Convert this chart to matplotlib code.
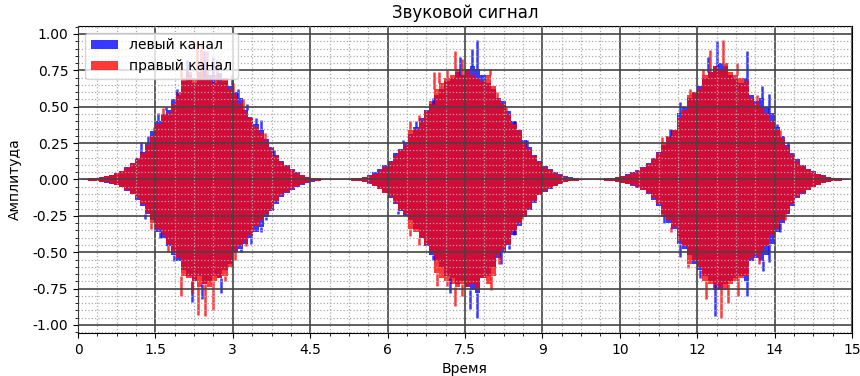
import numpy as np
import matplotlib
matplotlib.use("Agg")
import matplotlib.pyplot as plt
from matplotlib.ticker import MultipleLocator

# sound signal peaks, one value per 0.1 s bin (0 .. 15 s)
left_hi = [
    0.005, 0.005, 0.008, 0.012, 0.018, 0.025, 0.032, 0.045, 0.06, 0.085,
    0.11, 0.15, 0.19, 0.25, 0.33, 0.40, 0.45, 0.48, 0.55, 0.58,
    0.68, 0.72, 0.66, 0.74, 0.70, 0.72, 0.66, 0.73, 0.68, 0.64,
    0.60, 0.56, 0.48, 0.43, 0.38, 0.34, 0.28, 0.22, 0.17, 0.13,
    0.10, 0.07, 0.05, 0.03, 0.02, 0.012, 0.008, 0.005, 0.005, 0.005,
    0.005, 0.005, 0.005, 0.008, 0.012, 0.02, 0.03, 0.05, 0.07, 0.10,
    0.13, 0.18, 0.21, 0.26, 0.31, 0.36, 0.42, 0.48, 0.52, 0.58,
    0.62, 0.68, 0.70, 0.74, 0.72, 0.76, 0.78, 0.76, 0.72, 0.66,
    0.62, 0.56, 0.54, 0.47, 0.40, 0.34, 0.27, 0.22, 0.17, 0.13,
    0.09, 0.07, 0.05, 0.035, 0.022, 0.015, 0.01, 0.006, 0.005, 0.005,
    0.005, 0.006, 0.008, 0.012, 0.018, 0.025, 0.035, 0.05, 0.065, 0.085,
    0.11, 0.15, 0.19, 0.24, 0.29, 0.34, 0.46, 0.50, 0.56, 0.60,
    0.64, 0.70, 0.74, 0.78, 0.80, 0.78, 0.72, 0.70, 0.66, 0.70,
    0.58, 0.54, 0.56, 0.50, 0.46, 0.36, 0.30, 0.24, 0.18, 0.14,
    0.10, 0.075, 0.055, 0.04, 0.028, 0.018, 0.012, 0.008, 0.005, 0.005,
]
left_lo = [
    0.005, 0.005, 0.008, 0.012, 0.016, 0.022, 0.03, 0.04, 0.055, 0.08,
    0.10, 0.14, 0.18, 0.24, 0.28, 0.36, 0.40, 0.46, 0.52, 0.56,
    0.62, 0.66, 0.70, 0.66, 0.72, 0.70, 0.66, 0.68, 0.62, 0.58,
    0.50, 0.48, 0.44, 0.40, 0.36, 0.33, 0.26, 0.22, 0.17, 0.12,
    0.09, 0.07, 0.05, 0.035, 0.022, 0.014, 0.008, 0.005, 0.005, 0.005,
    0.005, 0.005, 0.006, 0.008, 0.012, 0.018, 0.028, 0.045, 0.065, 0.095,
    0.13, 0.17, 0.22, 0.25, 0.28, 0.34, 0.40, 0.46, 0.52, 0.56,
    0.60, 0.66, 0.68, 0.72, 0.70, 0.74, 0.76, 0.78, 0.68, 0.66,
    0.60, 0.54, 0.50, 0.45, 0.38, 0.32, 0.26, 0.21, 0.16, 0.11,
    0.085, 0.065, 0.048, 0.032, 0.02, 0.013, 0.008, 0.006, 0.005, 0.005,
    0.005, 0.006, 0.008, 0.011, 0.016, 0.022, 0.03, 0.042, 0.058, 0.075,
    0.10, 0.14, 0.18, 0.24, 0.30, 0.34, 0.44, 0.48, 0.52, 0.58,
    0.62, 0.66, 0.70, 0.72, 0.76, 0.72, 0.70, 0.68, 0.66, 0.70,
    0.56, 0.54, 0.56, 0.52, 0.44, 0.36, 0.30, 0.24, 0.18, 0.13,
    0.10, 0.075, 0.052, 0.036, 0.025, 0.016, 0.01, 0.007, 0.005, 0.005,
]
right_hi = [
    0.005, 0.005, 0.008, 0.011, 0.016, 0.022, 0.03, 0.042, 0.058, 0.08,
    0.11, 0.14, 0.18, 0.24, 0.30, 0.38, 0.44, 0.46, 0.52, 0.60,
    0.70, 0.74, 0.70, 0.72, 0.76, 0.70, 0.72, 0.68, 0.70, 0.62,
    0.58, 0.52, 0.46, 0.42, 0.36, 0.32, 0.26, 0.21, 0.16, 0.12,
    0.09, 0.065, 0.045, 0.03, 0.018, 0.011, 0.007, 0.005, 0.005, 0.005,
    0.005, 0.005, 0.006, 0.008, 0.011, 0.017, 0.025, 0.038, 0.055, 0.085,
    0.12, 0.16, 0.20, 0.24, 0.34, 0.35, 0.40, 0.47, 0.54, 0.62,
    0.66, 0.70, 0.72, 0.76, 0.72, 0.76, 0.72, 0.70, 0.68, 0.72,
    0.64, 0.55, 0.52, 0.45, 0.38, 0.32, 0.26, 0.21, 0.16, 0.12,
    0.085, 0.065, 0.046, 0.032, 0.02, 0.013, 0.008, 0.006, 0.005, 0.005,
    0.005, 0.006, 0.008, 0.011, 0.016, 0.022, 0.032, 0.045, 0.06, 0.08,
    0.105, 0.14, 0.18, 0.26, 0.30, 0.34, 0.42, 0.48, 0.58, 0.60,
    0.62, 0.72, 0.74, 0.78, 0.76, 0.80, 0.74, 0.72, 0.70, 0.68,
    0.56, 0.52, 0.50, 0.46, 0.40, 0.34, 0.28, 0.22, 0.17, 0.13,
    0.095, 0.07, 0.05, 0.036, 0.025, 0.016, 0.01, 0.007, 0.005, 0.005,
]
right_lo = [
    0.005, 0.005, 0.008, 0.011, 0.015, 0.02, 0.028, 0.038, 0.052, 0.075,
    0.10, 0.13, 0.17, 0.23, 0.30, 0.34, 0.38, 0.44, 0.50, 0.54,
    0.66, 0.68, 0.70, 0.74, 0.72, 0.74, 0.70, 0.68, 0.66, 0.60,
    0.48, 0.45, 0.42, 0.38, 0.32, 0.28, 0.24, 0.20, 0.15, 0.11,
    0.085, 0.065, 0.048, 0.032, 0.02, 0.013, 0.008, 0.005, 0.005, 0.005,
    0.005, 0.005, 0.006, 0.008, 0.011, 0.017, 0.026, 0.042, 0.062, 0.09,
    0.12, 0.16, 0.21, 0.24, 0.34, 0.36, 0.40, 0.45, 0.50, 0.64,
    0.68, 0.70, 0.72, 0.74, 0.72, 0.74, 0.72, 0.76, 0.68, 0.72,
    0.66, 0.52, 0.48, 0.44, 0.36, 0.30, 0.25, 0.20, 0.15, 0.105,
    0.08, 0.06, 0.045, 0.03, 0.019, 0.012, 0.008, 0.006, 0.005, 0.005,
    0.005, 0.006, 0.008, 0.011, 0.015, 0.021, 0.029, 0.04, 0.055, 0.072,
    0.095, 0.13, 0.17, 0.26, 0.28, 0.33, 0.42, 0.46, 0.58, 0.56,
    0.60, 0.70, 0.72, 0.76, 0.74, 0.76, 0.72, 0.70, 0.68, 0.66,
    0.54, 0.52, 0.50, 0.46, 0.38, 0.34, 0.28, 0.23, 0.17, 0.12,
    0.095, 0.07, 0.05, 0.035, 0.024, 0.015, 0.01, 0.007, 0.005, 0.005,
]

# single tall peaks sticking out of the envelope
left_spike_t = [1.22, 1.36, 1.56, 1.70, 1.92, 2.12, 2.45, 2.62, 2.98, 3.10, 3.28, 3.45, 3.55, 3.80,
                1.30, 1.58, 1.86, 2.20, 2.40, 2.78, 3.16, 3.35, 3.55, 3.65,
                6.14, 6.30, 6.55, 6.88, 7.40, 7.63, 7.73, 8.45, 8.70,
                6.20, 6.88, 7.20, 7.60, 7.73, 8.20, 8.35, 8.45,
                11.48, 11.66, 12.20, 12.38, 12.96, 13.25, 13.40, 13.55, 13.75,
                11.35, 11.66, 12.05, 12.34, 12.96, 13.28, 13.40, 13.60]
left_spike_v = [0.26, 0.30, 0.46, 0.50, 0.62, 0.82, 0.88, 0.84, 0.72, 0.62, 0.52, 0.42, 0.41, 0.20,
                -0.27, -0.40, -0.56, -0.84, -0.82, -0.78, -0.50, -0.44, -0.36, -0.28,
                0.18, 0.27, 0.40, 0.56, 0.84, 0.90, 0.96, 0.38, 0.27,
                -0.24, -0.55, -0.78, -0.89, -0.95, -0.58, -0.48, -0.35,
                0.35, 0.53, 0.84, 0.95, 0.88, 0.64, 0.59, 0.38, 0.26,
                -0.30, -0.53, -0.68, -0.94, -0.80, -0.63, -0.57, -0.36]
right_spike_t = [1.48, 1.65, 2.00, 2.30, 2.38, 2.50, 2.70, 3.00, 3.20, 3.62,
                 1.42, 1.75, 2.00, 2.20, 2.33, 2.46, 2.62, 2.84, 3.05, 3.25,
                 6.43, 6.60, 6.90, 7.00, 7.15, 7.30, 7.45, 7.98, 8.12, 8.30, 8.55,
                 6.43, 6.60, 6.95, 7.15, 7.30, 7.45, 8.00, 8.15, 8.60,
                 11.31, 11.70, 11.86, 12.12, 12.25, 12.50, 12.77, 13.15, 13.60,
                 11.50, 11.83, 12.18, 12.47, 12.60, 12.80, 13.20, 13.70]
right_spike_v = [0.36, 0.49, 0.78, 0.95, 0.92, 0.88, 0.82, 0.66, 0.55, 0.32,
                 -0.34, -0.50, -0.80, -0.78, -0.93, -0.94, -0.90, -0.70, -0.55, -0.46,
                 0.40, 0.44, 0.74, 0.74, 0.75, 0.88, 0.83, 0.76, 0.60, 0.50, 0.35,
                 -0.39, -0.45, -0.73, -0.73, -0.87, -0.80, -0.76, -0.58, -0.27,
                 0.29, 0.46, 0.62, 0.76, 0.89, 0.96, 0.80, 0.58, 0.34,
                 -0.36, -0.61, -0.82, -0.95, -0.85, -0.80, -0.58, -0.28]

x_ticks = [0, 1.5, 3, 4.5, 6, 7.5, 9, 10.5, 12, 13.5, 15]
x_labels = ["0", "1.5", "3", "4.5", "6", "7.5", "9", "10", "12", "14", "15"]
y_ticks = [-1, -0.75, -0.5, -0.25, 0, 0.25, 0.5, 0.75, 1]

t = np.arange(len(left_hi)) * 0.1 + 0.05


def draw_channel(ax, hi, lo, spike_t, spike_v, color, label):
    hi, lo = np.array(hi), -np.array(lo)
    ax.fill_between(t, lo, hi, step="mid", color=color, alpha=0.78,
                    linewidth=0, label=label)
    # spikes start at the envelope edge so they don't cross the body
    st = np.array(spike_t)
    sv = np.array(spike_v)
    idx = np.clip((st * 10).astype(int), 0, len(t) - 1)
    base = np.where(sv > 0, hi[idx], lo[idx])
    ax.vlines(st, base, sv, color=color, alpha=0.78, linewidth=1.8)


fig = plt.figure(figsize=(8.6, 3.76), dpi=100)
ax = fig.add_axes([0.0907, 0.1144, 0.9, 0.8165])

draw_channel(ax, left_hi, left_lo, left_spike_t, left_spike_v, "blue", "левый канал")
draw_channel(ax, right_hi, right_lo, right_spike_t, right_spike_v, "red", "правый канал")

ax.set_xlim(0, 15)
ax.set_ylim(-1.055, 1.055)
ax.set_xticks(x_ticks)
ax.set_xticklabels(x_labels)
ax.set_yticks(y_ticks)
ax.set_yticklabels(["%.2f" % v for v in y_ticks])
ax.xaxis.set_minor_locator(MultipleLocator(0.375))
ax.yaxis.set_minor_locator(MultipleLocator(0.05))

ax.set_axisbelow(False)
ax.grid(which="major", color="#444444", linewidth=1.2)
ax.grid(which="minor", color="#aaaaaa", linestyle=":", linewidth=0.9)

ax.set_title("Звуковой сигнал")
ax.set_xlabel("Время")
ax.set_ylabel("Амплитуда", labelpad=8)
ax.legend(loc="upper left")

fig.savefig("out.png")
